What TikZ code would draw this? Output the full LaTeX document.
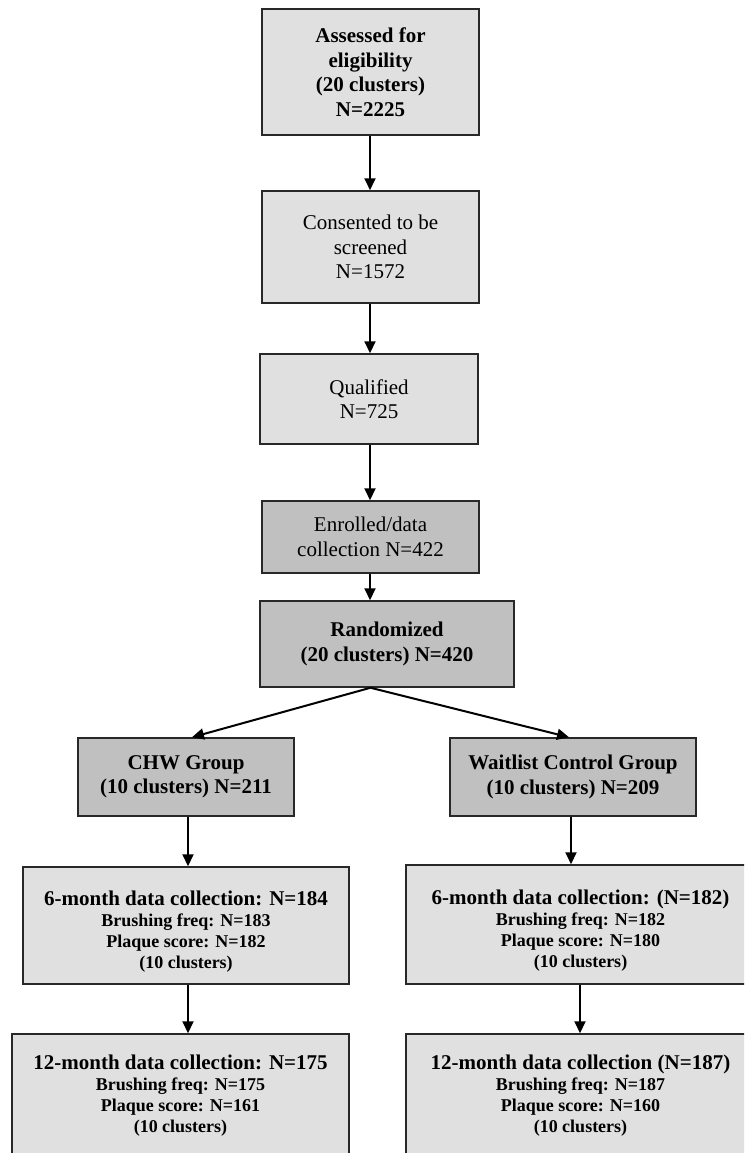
\documentclass[tikz,border=0pt]{standalone}
\usepackage{fontspec}
\setmainfont{Liberation Serif}
\usetikzlibrary{arrows.meta}
\definecolor{lightfill}{RGB}{224,224,224}
\definecolor{darkfill}{RGB}{192,192,192}
\definecolor{edge}{RGB}{40,40,40}
\tikzset{
  box/.style={draw=edge, line width=1.5pt, inner sep=0pt, align=center, text=black},
  light/.style={box, fill=lightfill},
  dark/.style={box, fill=darkfill},
  big/.style={font=\fontsize{21}{24.5}\selectfont},
  small/.style={font=\fontsize{18}{21}\selectfont\bfseries},
  arr/.style={line width=2pt, -{Triangle[length=12pt,width=11pt]}}
}
\newcommand{\mainline}[1]{{\fontsize{21}{24}\selectfont #1}}
\begin{document}
\begin{tikzpicture}[x=1pt,y=-1pt]
\useasboundingbox (0,0) rectangle (744,1153);
\clip (0,0) rectangle (744,1153);
\node[light, big, minimum width=217pt, minimum height=126pt] (b1) at (370.5,72) {\bfseries Assessed for\\\bfseries eligibility\\\bfseries (20 clusters)\\\bfseries N=2225};
\node[light, big, minimum width=217pt, minimum height=112pt] (b2) at (370.5,247) {Consented to be\\screened\\N=1572};
\node[light, big, minimum width=218pt, minimum height=90pt] (b3) at (369,399) {Qualified\\N=725};
\node[dark, big, minimum width=217pt, minimum height=72pt] (b4) at (370.5,537) {Enrolled/data\\collection N=422};
\node[dark, big, minimum width=254pt, minimum height=86pt] (b5) at (387,644) {\bfseries Randomized\\\bfseries (20 clusters) N=420};
\node[dark, big, minimum width=216pt, minimum height=78pt] (b6) at (186,777) {\bfseries CHW Group\\\bfseries (10 clusters) N=211};
\node[dark, big, minimum width=246pt, minimum height=78pt] (b7) at (573,777) {\bfseries Waitlist Control Group\\\bfseries (10 clusters) N=209};
\node[light, small, minimum width=326pt, minimum height=117pt] (b8) at (186,925.5) {\mainline{\rule{0pt}{27pt}6-month data collection: N=184}\\Brushing freq: N=183\\Plaque score: N=182\\(10 clusters)};
\node[light, small, minimum width=349pt, minimum height=119pt] (b9) at (580.5,924.5) {\mainline{\rule{0pt}{27pt}6-month data collection: (N=182)}\\Brushing freq: N=182\\Plaque score: N=180\\(10 clusters)};
\node[light, small, minimum width=337pt, minimum height=124pt] (b10) at (180.5,1096) {\mainline{12-month data collection: N=175}\\Brushing freq: N=175\\Plaque score: N=161\\(10 clusters)};
\node[light, small, minimum width=349pt, minimum height=124pt] (b11) at (580.5,1096) {\mainline{12-month data collection (N=187)}\\Brushing freq: N=187\\Plaque score: N=160\\(10 clusters)};
\coordinate (split) at (b4.south |- b5.south);
\draw[arr] ([xshift=-0.5pt]b1.south) -- ([xshift=-0.5pt]b1.south |- b2.north);
\draw[arr] ([xshift=-0.5pt]b2.south) -- ([xshift=-0.5pt]b2.south |- b3.north);
\draw[arr] ([xshift=1pt]b3.south) -- ([xshift=1pt]b3.south |- b4.north);
\draw[arr] ([xshift=-0.5pt]b4.south) -- ([xshift=-0.5pt]b4.south |- b5.north);
\draw[arr] (split) -- ([xshift=6pt]b6.north);
\draw[arr] (split) -- ([xshift=-4pt]b7.north);
\draw[arr] ([xshift=2pt]b6.south) -- ([xshift=2pt]b6.south |- b8.north);
\draw[arr] ([xshift=-2pt]b7.south) -- ([xshift=-2pt]b7.south |- b9.north);
\draw[arr] ([xshift=2pt]b8.south) -- ([xshift=2pt]b8.south |- b10.north);
\draw[arr] ([xshift=-0.5pt]b9.south) -- ([xshift=-0.5pt]b9.south |- b11.north);
\end{tikzpicture}
\end{document}
